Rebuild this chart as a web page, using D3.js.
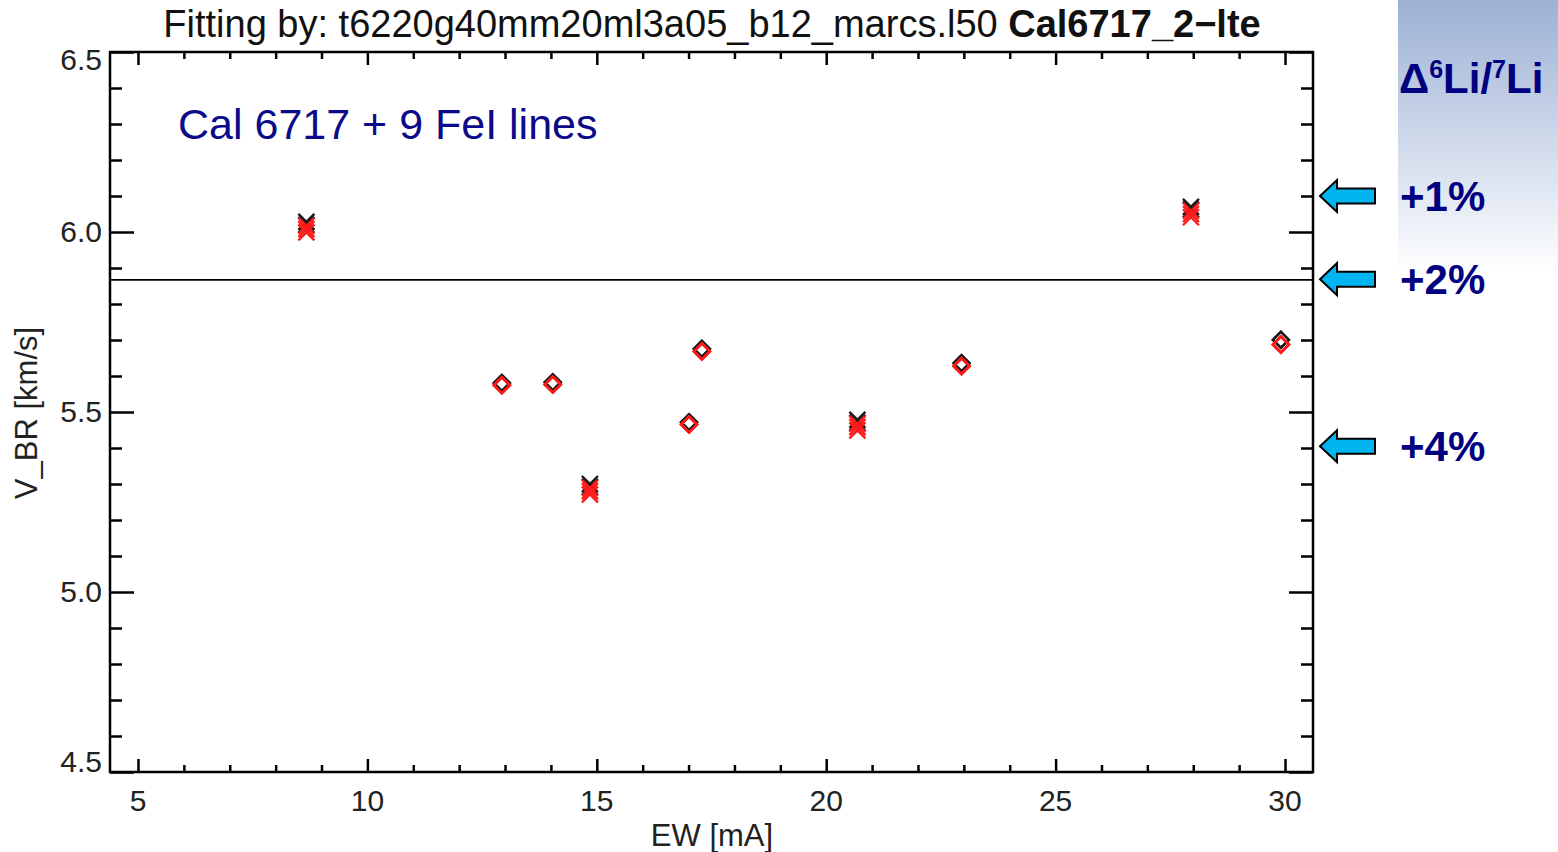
<!DOCTYPE html>
<html>
<head>
<meta charset="utf-8">
<script src="https://cdn.jsdelivr.net/npm/d3@7"></script>
<style>
  html, body { margin: 0; padding: 0; background: #fff; }
  svg { display: block; font-family: "Liberation Sans", Arial, sans-serif; }
</style>
</head>
<body>
<svg id="chart" width="1558" height="852"></svg>
<script>
// Equivalent widths of the lines [mA]
const ew = [8.67, 12.93, 14.04, 14.85, 17.01, 17.29, 20.68, 22.95, 27.95, 29.91];
// Marker per line: "x" for crosses, "d" for diamonds
const markerType = ["x", "d", "d", "x", "d", "d", "x", "d", "x", "d"];
// Fitted V_BR [km/s], black fits
const vbrBlack1 = [6.028, 5.581, 5.583, 5.300, 5.472, 5.676, 5.478, 5.636, 6.070, 5.701];
const vbrBlack2 = [6.020, 5.580, 5.582, 5.292, 5.471, 5.675, 5.470, 5.635, 6.062, 5.700];
// Fitted V_BR [km/s], red fits
const vbrRed1 = [6.017, 5.575, 5.577, 5.289, 5.466, 5.669, 5.467, 5.628, 6.059, 5.688];
const vbrRed2 = [6.008, 5.574, 5.576, 5.280, 5.465, 5.668, 5.458, 5.627, 6.050, 5.687];
const vbrRed3 = [5.999, 5.574, 5.576, 5.271, 5.465, 5.668, 5.449, 5.627, 6.041, 5.687];
// Mean level line
const meanLevel = 5.867;
// Axis ticks
const xMajorTicks = [5, 10, 15, 20, 25, 30];
const yMajorTicks = [4.5, 5.0, 5.5, 6.0, 6.5];
// Side annotation: 6Li/7Li offsets and the V_BR they point at
const liLabels = ["+1%", "+2%", "+4%"];
const liLevels = [6.10, 5.869, 5.405];

const svg = d3.select("#chart");
const plot = { left: 110, right: 1313, top: 52, bottom: 772 };

const x = d3.scaleLinear().domain([4.39, 30.61]).range([plot.left, plot.right]);
const y = d3.scaleLinear().domain([4.5, 6.5]).range([plot.bottom, plot.top]);

// Gradient panel on the right
const defs = svg.append("defs");
const grad = defs.append("linearGradient").attr("id", "panelGrad")
  .attr("x1", 0).attr("y1", 0).attr("x2", 0).attr("y2", 1);
grad.append("stop").attr("offset", "0%").attr("stop-color", "#9db1d5");
grad.append("stop").attr("offset", "100%").attr("stop-color", "#ffffff");
svg.append("rect").attr("x", 1398).attr("y", 0).attr("width", 160).attr("height", 275)
  .attr("fill", "url(#panelGrad)");

// Title
const title = svg.append("text").attr("x", 712).attr("y", 37)
  .attr("text-anchor", "middle").attr("font-size", 38).attr("fill", "#111");
title.append("tspan").text("Fitting by: t6220g40mm20ml3a05_b12_marcs.l50 ");
title.append("tspan").attr("font-weight", "bold").text("Cal6717_2\u2212lte");

// Axes with inward ticks
function drawAxis(g, axis) {
  g.call(axis);
  g.select(".domain").remove();
  g.selectAll(".tick line").attr("stroke", "#000").attr("stroke-width", 2.5);
}
const xMinor = d3.range(5, 31, 1).filter(v => v % 5 !== 0);
const yMinor = d3.range(45, 66, 1).map(v => v / 10).filter(v => Math.round(v * 10) % 5 !== 0);

// bottom
drawAxis(svg.append("g").attr("transform", `translate(0,${plot.bottom})`),
  d3.axisBottom(x).tickValues(xMajorTicks).tickSize(-13).tickFormat(""));
drawAxis(svg.append("g").attr("transform", `translate(0,${plot.bottom})`),
  d3.axisBottom(x).tickValues(xMinor).tickSize(-7).tickFormat(""));
// top
drawAxis(svg.append("g").attr("transform", `translate(0,${plot.top})`),
  d3.axisTop(x).tickValues(xMajorTicks).tickSize(-13).tickFormat(""));
drawAxis(svg.append("g").attr("transform", `translate(0,${plot.top})`),
  d3.axisTop(x).tickValues(xMinor).tickSize(-7).tickFormat(""));
// left
drawAxis(svg.append("g").attr("transform", `translate(${plot.left},0)`),
  d3.axisLeft(y).tickValues(yMajorTicks).tickSize(-24).tickFormat(""));
drawAxis(svg.append("g").attr("transform", `translate(${plot.left},0)`),
  d3.axisLeft(y).tickValues(yMinor).tickSize(-12).tickFormat(""));
// right
drawAxis(svg.append("g").attr("transform", `translate(${plot.right},0)`),
  d3.axisRight(y).tickValues(yMajorTicks).tickSize(-24).tickFormat(""));
drawAxis(svg.append("g").attr("transform", `translate(${plot.right},0)`),
  d3.axisRight(y).tickValues(yMinor).tickSize(-12).tickFormat(""));

// Tick labels
svg.append("g").selectAll("text").data(xMajorTicks).join("text")
  .attr("x", d => x(d)).attr("y", 811).attr("text-anchor", "middle")
  .attr("font-size", 30).attr("fill", "#222").text(d => d);
svg.append("g").selectAll("text").data(yMajorTicks).join("text")
  .attr("x", 102).attr("y", d => {
    let py = y(d) + 10;
    if (d === 6.5) py += 8;
    if (d === 4.5) py -= 10;
    return py;
  })
  .attr("text-anchor", "end").attr("font-size", 30).attr("fill", "#222")
  .text(d => d3.format(".1f")(d));

// Frame
svg.append("rect").attr("x", plot.left).attr("y", plot.top)
  .attr("width", plot.right - plot.left).attr("height", plot.bottom - plot.top)
  .attr("fill", "none").attr("stroke", "#000").attr("stroke-width", 2.5);

// Axis titles
svg.append("text").attr("x", 712).attr("y", 846).attr("text-anchor", "middle")
  .attr("font-size", 31).attr("fill", "#222").text("EW [mA]");
svg.append("text").attr("transform", "translate(37,413) rotate(-90)")
  .attr("text-anchor", "middle").attr("font-size", 31).attr("fill", "#222")
  .text("V_BR [km/s]");

// Mean level line
svg.append("line").attr("x1", plot.left).attr("x2", plot.right)
  .attr("y1", y(meanLevel)).attr("y2", y(meanLevel))
  .attr("stroke", "#000").attr("stroke-width", 1.6);

// Inset label
svg.append("text").attr("x", 178).attr("y", 139).attr("font-size", 43)
  .attr("fill", "#0a0a8a").text("Cal 6717 + 9 FeI lines");

// Markers
function markerPath(type) {
  if (type === "d") {
    const r = 8;
    return `M0,${-r}L${r},0L0,${r}L${-r},0Z`;
  }
  const r = 8;
  return `M${-r},${-r}L${r},${r}M${-r},${r}L${r},${-r}`;
}
function drawSeries(values, color) {
  svg.append("g").selectAll("path").data(values).join("path")
    .attr("transform", (d, i) => `translate(${x(ew[i])},${y(d)})`)
    .attr("d", (d, i) => markerPath(markerType[i]))
    .attr("fill", "none").attr("stroke", color).attr("stroke-width", 2.4);
}
drawSeries(vbrBlack1, "#1a1a1a");
drawSeries(vbrBlack2, "#1a1a1a");
drawSeries(vbrRed1, "#ff1a1a");
drawSeries(vbrRed2, "#ff1a1a");
drawSeries(vbrRed3, "#ff1a1a");

// Right annotation
const ratio = svg.append("text").attr("x", 1399).attr("y", 93)
  .attr("font-size", 42).attr("font-weight", "bold").attr("fill", "#000080");
ratio.append("tspan").text("\u0394");
ratio.append("tspan").attr("font-size", 25).attr("dy", -15).text("6");
ratio.append("tspan").attr("dy", 15).text("Li/");
ratio.append("tspan").attr("font-size", 25).attr("dy", -15).text("7");
ratio.append("tspan").attr("dy", 15).text("Li");

function arrowPath() {
  // left-pointing block arrow, tip at origin
  return "M0,0L17,-16L17,-7.5L55,-7.5L55,7.5L17,7.5L17,16Z";
}
const ann = svg.append("g").selectAll("g").data(liLabels).join("g")
  .attr("transform", (d, i) => `translate(1320,${y(liLevels[i])})`);
ann.append("path").attr("d", arrowPath())
  .attr("fill", "#00b4f0").attr("stroke", "#000").attr("stroke-width", 2);
ann.append("text").attr("x", 80).attr("y", 15).attr("font-size", 42)
  .attr("font-weight", "bold").attr("fill", "#000080").text(d => d);
</script>
</body>
</html>
